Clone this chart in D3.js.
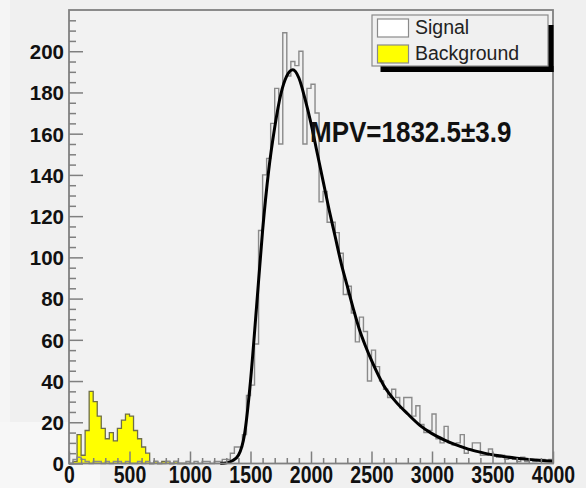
<!DOCTYPE html>
<html><head><meta charset="utf-8">
<script src="https://cdn.jsdelivr.net/npm/d3@7"></script>
<style>
html,body{margin:0;padding:0;background:#f0f0f0;}
svg{display:block;}
text{font-family:"Liberation Sans",Arial,Helvetica,sans-serif;}
</style></head>
<body><svg id="c" width="586" height="488"></svg>
<script>
// ---- data ----
const binEdges = d3.range(0, 4000.001, 4000/120);           // 120 bins, 0..4000
const signalCounts = [
 0,2,3,2,1,0,1,1,0,1,
 0,1,1,0,1,0,0,1,0,1,
 0,1,0,0,1,0,1,0,0,1,
 0,1,0,1,1,0,1,1,2,2,
 5,8,8,14,33,38,58,113,140,148,
 165,182,155,209,188,195,193,200,155,182,
 184,170,127,132,117,117,112,102,82,86,
 73,59,71,64,40,55,47,40,36,32,
 36,32,27,32,32,23,28,19,15,16,
 24,12,10,18,10,9,10,14,5,7,
 10,10,4,4,7,4,3,4,2,3,
 2,1,3,1,2,1,2,2,1,2
];
const backgroundCounts = [
 0,1,14,4,16,35,30,23,17,12,
 15,11,17,21,24,23,16,12,8,5,
 0,1,0,1,1,0,1,0,0,0
];
const fitX = [1250,1300,1350,1400,1450,1500,1550,1600,1650,1700,1750,1800,1850,1900,1950,2000,2050,2100,2150,2200,2250,2300,2350,2400,2450,2500,2600,2700,2800,2900,3000,3100,3200,3300,3400,3500,3600,3700,3800,3900,4000];
const fitY = [0,0.3,1.3,4,14,40,76,113,142,163,179,188,191,187,177,165,151,137,123,110,97,86,75,65,57,50,38,30,24,18.5,14.5,11.5,9,7,5.5,4.2,3.3,2.6,2,1.5,1.1];
const xTickLabels = [0,500,1000,1500,2000,2500,3000,3500,4000];
const yTickLabels = [0,20,40,60,80,100,120,140,160,180,200];
const legendLabels = ["Signal","Background"];
const fitLabel = "MPV=1832.5\u00b13.9";

// ---- layout ----
const L=69, R=553, T=10, B=463.5;
const svg = d3.select("#c");
const x = d3.scaleLinear().domain([0,4000]).range([L,R]);
const y = d3.scaleLinear().domain([0,220]).range([B,T]);

// background patches (screenshot look)
svg.append("rect").attr("x",0).attr("y",0).attr("width",586).attr("height",488).attr("fill","#f0f0f0");
svg.append("rect").attr("x",0).attr("y",0).attr("width",10).attr("height",488).attr("fill","#f5f5f5");
svg.append("rect").attr("x",0).attr("y",422).attr("width",100).attr("height",66).attr("fill","#f7f7f7");
svg.append("rect").attr("x",L).attr("y",T).attr("width",R-L).attr("height",B-T).attr("fill","#f2f2f2");

function stepPoints(counts){
  const pts=[[0,0]];
  counts.forEach((c,i)=>{ pts.push([binEdges[i],c]); pts.push([binEdges[i+1],c]); });
  pts.push([binEdges[counts.length],0]);
  return pts;
}
const line = d3.line().x(d=>x(d[0])).y(d=>y(d[1]));

// background histogram
svg.append("path").attr("d", line(stepPoints(backgroundCounts)))
  .attr("fill","#ffff00").attr("stroke","#6e6e4a").attr("stroke-width",1.3);
// signal histogram
svg.append("path").attr("d", line(stepPoints(signalCounts)))
  .attr("fill","none").attr("stroke","#8a8a8a").attr("stroke-width",1.4);
// fit
const fitLine = d3.line().x(d=>x(d[0])).y(d=>y(d[1])).curve(d3.curveMonotoneX);
svg.append("path").attr("d", fitLine(fitX.map((v,i)=>[v,fitY[i]])))
  .attr("fill","none").attr("stroke","#000").attr("stroke-width",3).attr("stroke-linejoin","round");

// axes
const tickCol="#7f7f7f";
const yMinor = d3.range(0,221,5).filter(v=>v%20!==0);
svg.append("g").attr("transform",`translate(${L},0)`)
  .call(d3.axisLeft(y).tickValues(yMinor).tickSize(-7).tickFormat(""))
  .call(g=>g.select(".domain").remove())
  .call(g=>g.selectAll("line").attr("stroke",tickCol).attr("stroke-width",1.5));
const yAx = svg.append("g").attr("transform",`translate(${L},0)`)
  .call(d3.axisLeft(y).tickValues(yTickLabels).tickSize(-14).tickPadding(5).tickFormat(d3.format("d")))
  .call(g=>g.select(".domain").remove());
yAx.selectAll("line").attr("stroke",tickCol).attr("stroke-width",1.5);
yAx.selectAll("text").attr("fill","#111").attr("font-size","20.5px").attr("font-weight","bold")
  .attr("font-family",'"Liberation Sans",Arial,sans-serif').attr("dy","0.36em");

const xMinor = d3.range(0,4001,100).filter(v=>v%500!==0);
svg.append("g").attr("transform",`translate(0,${B})`)
  .call(d3.axisBottom(x).tickValues(xMinor).tickSize(-5.5).tickFormat(""))
  .call(g=>g.select(".domain").remove())
  .call(g=>g.selectAll("line").attr("stroke",tickCol).attr("stroke-width",1.5));
const xAx = svg.append("g").attr("transform",`translate(0,${B})`)
  .call(d3.axisBottom(x).tickValues(xTickLabels).tickSize(-12).tickFormat(d3.format("d")))
  .call(g=>g.select(".domain").remove());
xAx.selectAll("line").attr("stroke",tickCol).attr("stroke-width",1.5);
xAx.selectAll("text").attr("fill","#111").attr("font-size","19.5px").attr("font-weight","bold")
  .attr("font-family",'"Liberation Sans",Arial,sans-serif')
  .attr("y",null).attr("dy",null)
  .attr("transform","translate(0,19) scale(1,1.2)");

// frame
svg.append("rect").attr("x",L).attr("y",T).attr("width",R-L).attr("height",B-T)
  .attr("fill","none").attr("stroke","#808080").attr("stroke-width",1.8);

// legend
const lg = svg.append("g");
lg.append("rect").attr("x",380.5).attr("y",66).attr("width",173).attr("height",6).attr("fill","#000");
lg.append("rect").attr("x",548).attr("y",25).attr("width",5.5).attr("height",47).attr("fill","#000");
lg.append("rect").attr("x",372).attr("y",15).attr("width",176).attr("height",51)
  .attr("fill","#f0f0f0").attr("stroke","#8a8a8a").attr("stroke-width",1.2);
const swFill=["#ffffff","#ffff00"];
legendLabels.forEach((t,i)=>{
  const yy = 19 + i*26;
  lg.append("rect").attr("x",377.5).attr("y",yy).attr("width",31).attr("height",18)
    .attr("fill",swFill[i]).attr("stroke","#8a8a8a").attr("stroke-width",1.2);
  lg.append("text").attr("x",415).attr("y",yy+14.5).attr("font-size","19.5px").attr("fill","#222").text(t);
});

// fit label
svg.append("text").attr("transform","translate(310,141.5) scale(1,1.15)")
  .attr("font-size","26px").attr("font-weight","bold").attr("fill","#111").text(fitLabel);
</script>
</body></html>
